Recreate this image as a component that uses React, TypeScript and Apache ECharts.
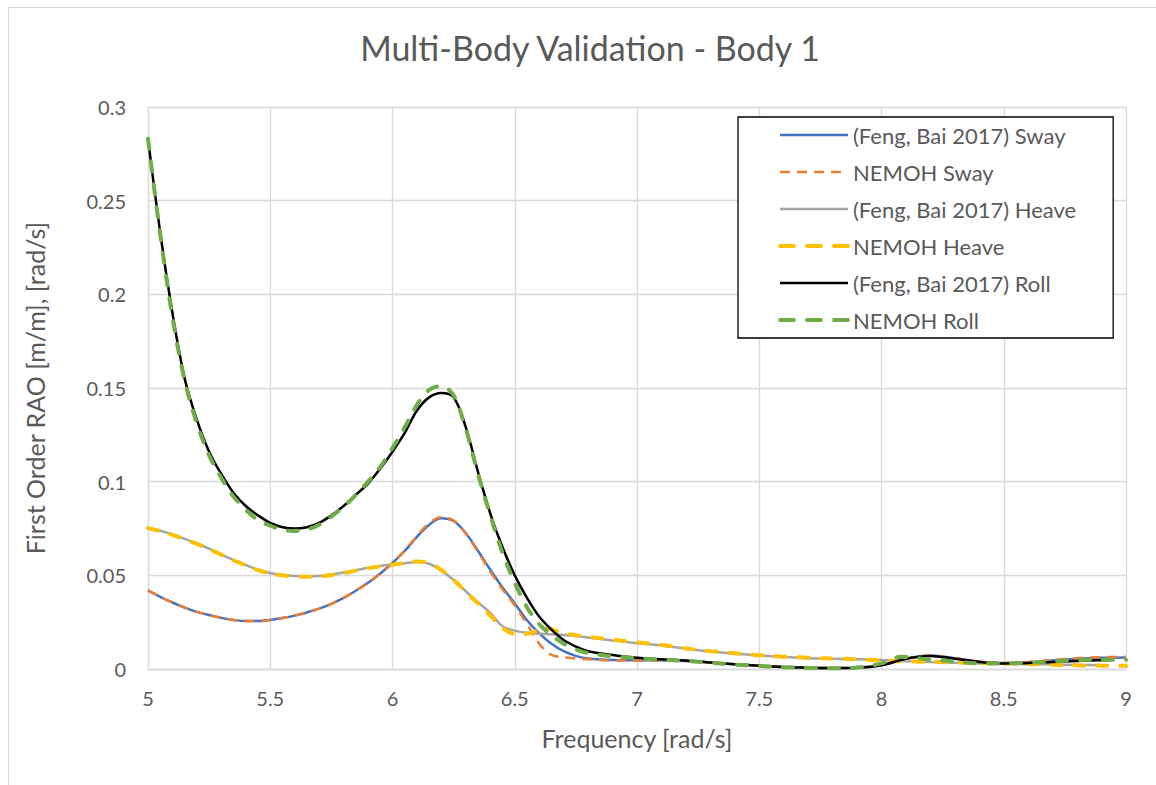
import React, { useEffect, useRef } from "react";
import * as echarts from "echarts";

const FONT = "Lato, 'Open Sans', sans-serif";
const TEXT = "#595959";

const titleText = "Multi-Body Validation - Body 1";
const xName = "Frequency [rad/s]";
const yName = "First Order RAO [m/m], [rad/s]";

const seriesNames = [
  "(Feng, Bai 2017) Sway",
  "NEMOH Sway",
  "(Feng, Bai 2017) Heave",
  "NEMOH Heave",
  "(Feng, Bai 2017) Roll",
  "NEMOH Roll",
];

// frequency grid shared by most series
const freqA = [5.0, 5.05, 5.1, 5.15, 5.2, 5.25, 5.3, 5.35, 5.4, 5.45, 5.5, 5.55, 5.6, 5.65, 5.7, 5.75, 5.8, 5.85, 5.9, 5.95, 6.0, 6.05, 6.1, 6.15, 6.2, 6.25, 6.3, 6.35, 6.4, 6.45, 6.5, 6.55, 6.6, 6.65, 6.7, 6.75, 6.8, 6.9, 7.0, 7.1, 7.2, 7.3, 7.4, 7.5, 7.6, 7.7, 7.8, 7.9, 8.0, 8.1, 8.2, 8.3, 8.4, 8.5, 8.6, 8.7, 8.8, 8.9, 9.0];

const fengSway = [0.042, 0.0385, 0.0355, 0.0328, 0.0305, 0.0288, 0.0273, 0.0262, 0.0256, 0.0256, 0.0262, 0.0272, 0.0285, 0.0302, 0.0322, 0.0348, 0.038, 0.0418, 0.046, 0.051, 0.0566, 0.063, 0.0705, 0.077, 0.0805, 0.079, 0.0725, 0.063, 0.053, 0.0435, 0.035, 0.026, 0.019, 0.0135, 0.0095, 0.007, 0.0056, 0.0048, 0.0047, 0.0047, 0.0043, 0.0035, 0.0026, 0.0018, 0.0012, 0.0008, 0.0006, 0.0008, 0.002, 0.0055, 0.0072, 0.0058, 0.004, 0.0032, 0.0036, 0.0045, 0.0055, 0.006, 0.0062];

const nemohSway = [0.042, 0.0385, 0.0355, 0.0328, 0.0305, 0.0288, 0.0273, 0.0262, 0.0256, 0.0256, 0.0262, 0.0272, 0.0285, 0.0302, 0.0322, 0.0348, 0.038, 0.0418, 0.046, 0.051, 0.0566, 0.0632, 0.071, 0.0778, 0.081, 0.0792, 0.0722, 0.0625, 0.052, 0.0425, 0.034, 0.024, 0.0135, 0.0075, 0.0062, 0.0056, 0.0052, 0.0045, 0.0045, 0.0046, 0.0043, 0.0035, 0.0026, 0.0018, 0.0012, 0.0008, 0.0006, 0.0008, 0.002, 0.0055, 0.0072, 0.0058, 0.004, 0.0033, 0.0038, 0.0048, 0.0058, 0.0063, 0.0065];

const fengHeaveFreq = [5.0, 5.05, 5.1, 5.15, 5.2, 5.25, 5.3, 5.35, 5.4, 5.45, 5.5, 5.55, 5.6, 5.65, 5.7, 5.75, 5.8, 5.85, 5.9, 5.95, 6.0, 6.05, 6.1, 6.15, 6.2, 6.25, 6.3, 6.35, 6.4, 6.45, 6.5, 6.55, 6.6, 6.7, 6.8, 6.9, 7.0, 7.1, 7.2, 7.3, 7.4, 7.5, 7.6, 7.7, 7.8, 7.9, 8.0, 8.1, 8.2, 8.3, 8.4, 8.5, 8.6, 8.7, 8.8, 8.93];
const fengHeave = [0.0753, 0.0738, 0.0718, 0.0695, 0.067, 0.0642, 0.0612, 0.0582, 0.0555, 0.053, 0.0512, 0.0502, 0.0497, 0.0495, 0.0497, 0.0505, 0.0515, 0.0527, 0.054, 0.055, 0.0558, 0.0565, 0.0571, 0.0562, 0.0525, 0.0475, 0.0415, 0.0355, 0.03, 0.0228, 0.0205, 0.0193, 0.0188, 0.0182, 0.0168, 0.0152, 0.0138, 0.0125, 0.0108, 0.0093, 0.0082, 0.0072, 0.0064, 0.0058, 0.0055, 0.0052, 0.0048, 0.0042, 0.0037, 0.0033, 0.003, 0.0028, 0.0026, 0.0024, 0.0022, 0.002];

const nemohHeaveFreq = [5.0, 5.05, 5.1, 5.15, 5.2, 5.25, 5.3, 5.35, 5.4, 5.45, 5.5, 5.55, 5.6, 5.65, 5.7, 5.75, 5.8, 5.85, 5.9, 5.95, 6.0, 6.05, 6.1, 6.15, 6.2, 6.25, 6.3, 6.35, 6.4, 6.45, 6.5, 6.56, 6.62, 6.7, 6.8, 6.9, 7.0, 7.1, 7.2, 7.3, 7.4, 7.5, 7.6, 7.7, 7.8, 7.9, 8.0, 8.1, 8.2, 8.3, 8.4, 8.5, 8.6, 8.7, 8.8, 8.9, 9.0];
const nemohHeave = [0.0752, 0.0736, 0.0716, 0.0693, 0.0668, 0.064, 0.061, 0.058, 0.0553, 0.0528, 0.051, 0.05, 0.0494, 0.0492, 0.0494, 0.0502, 0.0512, 0.0525, 0.0538, 0.0548, 0.0557, 0.0566, 0.0574, 0.0565, 0.0528, 0.0475, 0.0412, 0.035, 0.0285, 0.022, 0.0188, 0.019, 0.0219, 0.0192, 0.0172, 0.0156, 0.0142, 0.0128, 0.011, 0.0095, 0.0084, 0.0074, 0.0066, 0.006, 0.0056, 0.0052, 0.0046, 0.0041, 0.0038, 0.0035, 0.0032, 0.003, 0.0027, 0.0023, 0.002, 0.0018, 0.0017];

const fengRollFreq = [5.0, 5.05, 5.1, 5.15, 5.2, 5.25, 5.3, 5.35, 5.4, 5.45, 5.5, 5.55, 5.6, 5.65, 5.7, 5.75, 5.8, 5.85, 5.9, 5.95, 6.0, 6.05, 6.1, 6.15, 6.2, 6.25, 6.3, 6.35, 6.4, 6.45, 6.5, 6.55, 6.6, 6.65, 6.7, 6.75, 6.8, 6.9, 7.0, 7.1, 7.2, 7.3, 7.4, 7.5, 7.6, 7.7, 7.8, 7.9, 8.0, 8.1, 8.2, 8.3, 8.4, 8.5, 8.6, 8.7, 8.8, 8.93];
const fengRoll = [0.283, 0.233, 0.19, 0.155, 0.133, 0.116, 0.104, 0.094, 0.087, 0.082, 0.078, 0.0757, 0.075, 0.0757, 0.078, 0.082, 0.087, 0.093, 0.099, 0.107, 0.116, 0.126, 0.138, 0.145, 0.1473, 0.145, 0.129, 0.105, 0.083, 0.065, 0.05, 0.038, 0.028, 0.021, 0.0155, 0.012, 0.0095, 0.0075, 0.006, 0.0052, 0.0045, 0.0035, 0.0025, 0.0017, 0.001, 0.0007, 0.0004, 0.0006, 0.002, 0.0055, 0.007, 0.0055, 0.0038, 0.003, 0.0032, 0.0038, 0.0043, 0.0048];

const nemohRollFreq = [5.0, 5.05, 5.1, 5.15, 5.2, 5.25, 5.3, 5.35, 5.4, 5.45, 5.5, 5.55, 5.6, 5.65, 5.7, 5.75, 5.8, 5.85, 5.9, 5.95, 6.0, 6.05, 6.1, 6.15, 6.2, 6.25, 6.3, 6.35, 6.4, 6.45, 6.5, 6.55, 6.6, 6.65, 6.7, 6.75, 6.8, 6.9, 7.0, 7.1, 7.2, 7.3, 7.4, 7.5, 7.6, 7.7, 7.8, 7.9, 8.0, 8.08, 8.2, 8.3, 8.4, 8.5, 8.6, 8.7, 8.8, 8.9, 9.0];
const nemohRoll = [0.283, 0.232, 0.188, 0.154, 0.131, 0.114, 0.102, 0.092, 0.085, 0.0795, 0.0765, 0.0743, 0.0737, 0.0745, 0.077, 0.0815, 0.0865, 0.093, 0.1, 0.108, 0.118, 0.129, 0.141, 0.149, 0.151, 0.146, 0.128, 0.104, 0.082, 0.062, 0.046, 0.033, 0.024, 0.018, 0.0135, 0.0105, 0.0085, 0.0068, 0.0058, 0.005, 0.0043, 0.0033, 0.0024, 0.0016, 0.001, 0.0006, 0.0004, 0.0008, 0.003, 0.0065, 0.005, 0.004, 0.003, 0.003, 0.0033, 0.004, 0.0048, 0.005, 0.005];

const pair = (xs: number[], ys: number[]) => ys.map((y, i) => [xs[i], y]);

export default function App() {
  const ref = useRef<HTMLDivElement>(null);
  useEffect(() => {
    const chart = echarts.init(ref.current!, null, { renderer: "svg" });
    const mk = (name: string, data: number[][], color: string, width: number, dash: any, cap: string = "butt") => ({
      name,
      type: "line",
      data,
      smooth: 0.35,
      symbol: "none",
      showSymbol: false,
      lineStyle: { color, width, type: dash, cap },
      itemStyle: { color },
      emphasis: { disabled: true },
    });
    const legendData = [
      { name: seriesNames[0], lineStyle: { width: 2.5 } },
      { name: seriesNames[1], lineStyle: { width: 2.5, type: [10, 7] } },
      { name: seriesNames[2], lineStyle: { width: 2.5 } },
      { name: seriesNames[3], lineStyle: { width: 4, type: [14, 13], cap: "round" } },
      { name: seriesNames[4], lineStyle: { width: 2.5 } },
      { name: seriesNames[5], lineStyle: { width: 4, type: [14, 13], cap: "round" } },
    ];
    chart.setOption({
      animation: false,
      title: {
        text: titleText,
        left: 585,
        top: 25,
        textAlign: "center",
        textStyle: { fontFamily: FONT, fontSize: 34, fontWeight: "normal", color: TEXT },
      },
      grid: { left: 148, right: 30, top: 107, bottom: 116, containLabel: false },
      legend: {
        orient: "vertical",
        left: 738,
        top: 117,
        padding: [7, 37, 7, 40],
        itemWidth: 68,
        itemHeight: 14,
        itemGap: 15,
        borderColor: "#000",
        borderWidth: 1.3,
        backgroundColor: "#fff",
        itemStyle: { opacity: 0, borderWidth: 0 },
        textStyle: { fontFamily: FONT, fontSize: 22, color: TEXT, lineHeight: 22 },
        data: legendData,
      },
      xAxis: {
        type: "value",
        min: 5,
        max: 9,
        interval: 0.5,
        name: xName,
        nameLocation: "middle",
        nameGap: 56,
        nameTextStyle: { fontFamily: FONT, fontSize: 25, color: TEXT },
        axisLine: { show: true, lineStyle: { color: "#d9d9d9", width: 1.3 } },
        axisTick: { show: false },
        axisLabel: { fontFamily: FONT, fontSize: 20, color: TEXT, margin: 19 },
        splitLine: { show: true, lineStyle: { color: "#d9d9d9", width: 1.3 } },
      },
      yAxis: {
        type: "value",
        min: 0,
        max: 0.3,
        interval: 0.05,
        name: yName,
        nameLocation: "middle",
        nameGap: 101,
        nameRotate: 90,
        nameTextStyle: { fontFamily: FONT, fontSize: 25, color: TEXT },
        axisLine: { show: true, lineStyle: { color: "#d9d9d9", width: 1.3 } },
        axisTick: { show: false },
        axisLabel: { fontFamily: FONT, fontSize: 20, color: TEXT, margin: 22 },
        splitLine: { show: true, lineStyle: { color: "#d9d9d9", width: 1.3 } },
      },
      series: [
        mk(seriesNames[0], pair(freqA, fengSway), "#4472C4", 2.5, "solid"),
        mk(seriesNames[1], pair(freqA, nemohSway), "#ED7D31", 2.5, [10, 7]),
        mk(seriesNames[2], pair(fengHeaveFreq, fengHeave), "#A5A5A5", 2.5, "solid"),
        mk(seriesNames[3], pair(nemohHeaveFreq, nemohHeave), "#FFC000", 4, [10, 13], "round"),
        mk(seriesNames[4], pair(fengRollFreq, fengRoll), "#000000", 2.5, "solid"),
        mk(seriesNames[5], pair(nemohRollFreq, nemohRoll), "#70AD47", 4, [10, 13], "round"),
      ],
    });
    return () => chart.dispose();
  }, []);
  return (
    <div style={{ position: "fixed", left: 0, top: 0, width: 1156, height: 785, background: "#fff", overflow: "hidden" }}>
      <div style={{ position: "absolute", left: 8, top: 7, width: 1180, height: 820, border: "1px solid #d9d9d9" }} />
      <div ref={ref} style={{ position: "absolute", left: 0, top: 0, width: 1156, height: 785 }} />
    </div>
  );
}
